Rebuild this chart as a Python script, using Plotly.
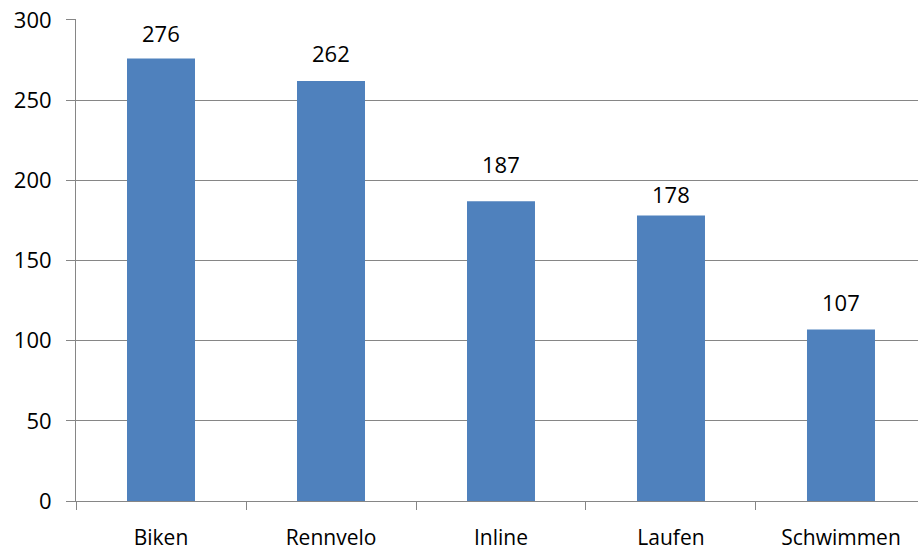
import plotly.graph_objects as go

categories = ["Biken", "Rennvelo", "Inline", "Laufen", "Schwimmen"]
values = [276, 262, 187, 178, 107]

# styling: per-label vertical offset (px) of data labels, as in the reference
label_offsets = [8, 11, 20, 5, 10]

FONT = "Open Sans, Liberation Sans, sans-serif"

fig = go.Figure()
fig.add_trace(go.Bar(
    x=categories, y=values,
    marker=dict(color="#4F81BD", line=dict(width=0)),
    width=0.4,
    hoverinfo="x+y",
))

for c, v, off in zip(categories, values, label_offsets):
    fig.add_annotation(x=c, y=v, text=str(v), showarrow=False,
                       yanchor="bottom", yshift=off,
                       font=dict(family=FONT, size=22, color="#000000"))

fig.update_layout(
    width=919, height=552,
    margin=dict(l=76, r=1, t=19, b=51),
    paper_bgcolor="white", plot_bgcolor="white",
    showlegend=False,
    font=dict(family=FONT, size=22, color="#000000"),
)
fig.update_xaxes(
    range=[-0.5, 4.453], automargin=False,
    showline=True, linecolor="#868686", linewidth=1,
    ticks="outside", tickson="boundaries", ticklen=8, tickcolor="#868686",
    showgrid=False, tickfont=dict(size=21), ticklabelstandoff=18,
    ticklabeloverflow="allow",
)
fig.update_yaxes(
    range=[0, 300.6], dtick=50, automargin=False,
    showline=True, linecolor="#868686", linewidth=1,
    ticks="outside", ticklen=9, tickcolor="#868686",
    showgrid=True, gridcolor="#868686", gridwidth=1,
    zeroline=False, tickfont=dict(size=22), ticklabelstandoff=10,
    ticklabeloverflow="allow",
)

fig.write_html(
    "out.html",
    config={"displayModeBar": False},
    post_script="document.body.style.margin='0';document.body.style.overflow='hidden';",
)
